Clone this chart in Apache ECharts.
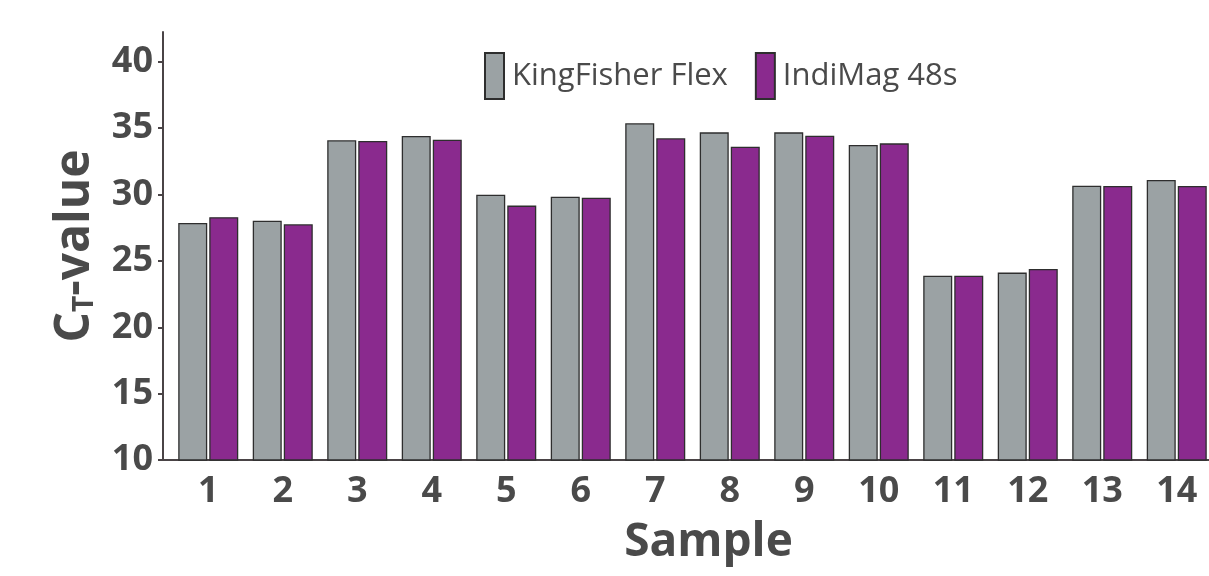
<!DOCTYPE html>
<html>
<head>
<meta charset="utf-8">
<script src="https://cdn.jsdelivr.net/npm/echarts@6/dist/echarts.min.js"></script>
<style>
html,body{margin:0;padding:0;background:#fff;}
#chart{width:1209px;height:576px;}
</style>
</head>
<body>
<div id="chart"></div>
<script>
const categories = ['1','2','3','4','5','6','7','8','9','10','11','12','13','14'];
const kingFisher = [27.86, 28.03, 34.09, 34.41, 29.99, 29.84, 35.37, 34.69, 34.69, 33.74, 23.89, 24.12, 30.67, 31.10];
const indiMag = [28.30, 27.76, 34.04, 34.14, 29.17, 29.77, 34.24, 33.61, 34.44, 33.86, 23.89, 24.39, 30.65, 30.65];
const yTicks = [10, 15, 20, 25, 30, 35, 40];
const seriesNames = ['KingFisher Flex', 'IndiMag 48s'];

const axisColor = '#4a4446';
const textColor = '#4a4a4a';
const font = '"Open Sans", "Noto Sans", sans-serif';

const chart = echarts.init(document.getElementById('chart'), null, {renderer: 'canvas'});
chart.setOption({
  animation: false,
  backgroundColor: '#ffffff',
  textStyle: {fontFamily: font},
  legend: {
    left: 479, top: 47,
    icon: 'rect',
    itemWidth: 19, itemHeight: 46, itemGap: 27,
    textStyle: {fontSize: 31, color: textColor, fontFamily: font, padding: [0,0,0,3]},
    data: seriesNames
  },
  grid: {left: 171, top: 32, width: 1043, bottom: 116, containLabel: false, outerBoundsMode: 'none'},
  xAxis: {
    type: 'category',
    data: categories,
    boundaryGap: true,
    name: 'Sample',
    nameLocation: 'middle',
    nameGap: 60,
    nameTextStyle: {fontSize: 46, fontWeight: 'bold', color: textColor, fontFamily: font, padding: [0,0,0,32]},
    axisLine: {lineStyle: {color: axisColor, width: 2}, symbol: ['rect', 'none'], symbolSize: [2, 16]},
    axisTick: {alignWithLabel: true, length: 5, lineStyle: {color: axisColor, width: 2}},
    axisLabel: {fontSize: 36, fontWeight: 'bold', color: textColor, margin: 14, fontFamily: font}
  },
  yAxis: {
    type: 'value',
    min: 10, max: 42.25, interval: 5,
    offset: 8,
    name: '{a|C}{s|T}{a|-value}',
    nameLocation: 'middle',
    nameGap: 64,
    nameRotate: 90,
    nameTextStyle: {
      rich: {
        a: {fontSize: 48, fontWeight: 'bold', color: textColor, fontFamily: font},
        s: {fontSize: 28, fontWeight: 'bold', color: textColor, fontFamily: font, verticalAlign: 'bottom', padding: [18, 0, 0, 0]}
      }
    },
    splitLine: {show: false},
    axisLine: {show: true, lineStyle: {color: axisColor, width: 2}},
    axisTick: {show: true, length: 5, lineStyle: {color: axisColor, width: 2}, customValues: yTicks},
    axisLabel: {fontSize: 36, fontWeight: 'bold', color: textColor, margin: 10, fontFamily: font, customValues: yTicks}
  },
  series: [
    {
      name: seriesNames[0], type: 'bar', data: kingFisher,
      barWidth: 29, barGap: '7%',
      itemStyle: {color: '#9ba2a4', borderColor: '#2e2e2e', borderWidth: 1.3}
    },
    {
      name: seriesNames[1], type: 'bar', data: indiMag,
      barWidth: 29,
      itemStyle: {color: '#8a2a8e', borderColor: '#2e2e2e', borderWidth: 1.3}
    }
  ]
});
</script>
</body>
</html>
